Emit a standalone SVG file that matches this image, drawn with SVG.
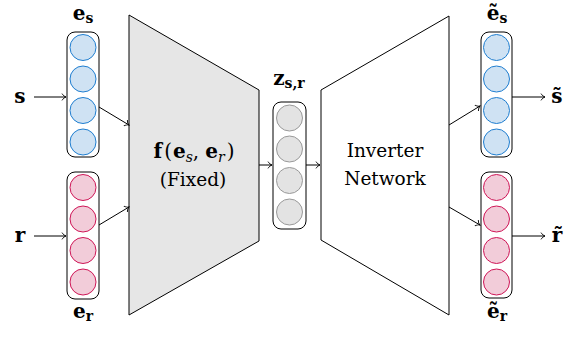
<svg xmlns="http://www.w3.org/2000/svg" width="578" height="338" viewBox="0 0 578 338">
<style>
.box{fill:#fff;stroke:#000;stroke-width:1}
.cb{fill:#cfe2f3;stroke:#1f7ed0;stroke-width:1}
.cr{fill:#f2ccd9;stroke:#cf1657;stroke-width:1}
.cg{fill:#e3e3e3;stroke:#999;stroke-width:1}
.con{fill:none;stroke:#000;stroke-width:1;marker-end:url(#ah)}
text{font-family:'DejaVu Serif',serif;fill:#000}
.b{font-weight:bold}
.lbl{font-size:20px;text-anchor:middle}
.sub{font-size:14px}
.big{font-size:18.5px;text-anchor:middle}
.fl{font-size:20px;text-anchor:middle}
</style>
<defs>
<marker id="ah" viewBox="-5 -4 6 8" refX="0" refY="0" markerWidth="6" markerHeight="8" markerUnits="userSpaceOnUse" orient="auto">
<path d="M-4,-3.4 C-3,-1.6 -1.2,-0.4 0,0 C-1.2,0.4 -3,1.6 -4,3.4" fill="none" stroke="#000" stroke-width="0.9"/>
</marker>
</defs>

<g id="f-fixed">
<polygon points="129,15 259,90 259,241 129,315" fill="#e6e6e6" stroke="#000" stroke-width="1"/>
<text class="fl" x="194" y="158"><tspan class="b">f</tspan><tspan dx="2">(</tspan><tspan class="b" dx="1">e</tspan><tspan class="sub" font-style="italic" dy="4">s</tspan><tspan dy="-4">,</tspan><tspan class="b" dx="6">e</tspan><tspan class="sub" font-style="italic" dy="4">r</tspan><tspan dy="-4" dx="2">)</tspan></text>
<text class="big" x="193" y="186">(Fixed)</text>
</g>

<g id="inverter">
<polygon points="321,90 449,16 449,315 321,240" fill="#fff" stroke="#000" stroke-width="1"/>
<text class="big" x="385" y="157">Inverter</text>
<text class="big" x="385" y="185">Network</text>
</g>

<g id="es">
<rect class="box" x="67" y="32" width="32" height="125" rx="8"/>
<circle class="cb" cx="83" cy="47.5" r="13"/>
<circle class="cb" cx="83" cy="79" r="13"/>
<circle class="cb" cx="83" cy="110.5" r="13"/>
<circle class="cb" cx="83" cy="142" r="13"/>
<text class="lbl b" x="83" y="20">e<tspan class="sub" dy="3">s</tspan></text>
</g>

<g id="er">
<rect class="box" x="67" y="172" width="32" height="127" rx="8"/>
<circle class="cr" cx="83" cy="187.5" r="13"/>
<circle class="cr" cx="83" cy="219" r="13"/>
<circle class="cr" cx="83" cy="250.5" r="13"/>
<circle class="cr" cx="83" cy="282" r="13"/>
<text class="lbl b" x="83" y="318">e<tspan class="sub" dy="3">r</tspan></text>
</g>

<g id="z">
<rect class="box" x="273" y="102" width="33" height="127" rx="8"/>
<circle class="cg" cx="289.5" cy="118" r="13"/>
<circle class="cg" cx="289.5" cy="149" r="13"/>
<circle class="cg" cx="289.5" cy="180.5" r="13"/>
<circle class="cg" cx="289.5" cy="212" r="13"/>
<text class="lbl b" x="289" y="85">z<tspan class="sub" dy="3">s,r</tspan></text>
</g>

<g id="es-tilde">
<rect class="box" x="481" y="32" width="31" height="125" rx="8"/>
<circle class="cb" cx="496.5" cy="47.5" r="13"/>
<circle class="cb" cx="496.5" cy="79" r="13"/>
<circle class="cb" cx="496.5" cy="110.5" r="13"/>
<circle class="cb" cx="496.5" cy="142" r="13"/>
<text class="lbl b" x="497" y="20">ẽ<tspan class="sub" dy="3">s</tspan></text>
</g>

<g id="er-tilde">
<rect class="box" x="481" y="172" width="31" height="126" rx="8"/>
<circle class="cr" cx="496.5" cy="187.5" r="13"/>
<circle class="cr" cx="496.5" cy="219" r="13"/>
<circle class="cr" cx="496.5" cy="250.5" r="13"/>
<circle class="cr" cx="496.5" cy="282" r="13"/>
<text class="lbl b" x="497" y="318">ẽ<tspan class="sub" dy="3">r</tspan></text>
</g>

<g id="inputs-outputs">
<text class="lbl b" x="20" y="103">s</text>
<text class="lbl b" x="20" y="242">r</text>
<text class="lbl b" x="557" y="103">s̃</text>
<text class="lbl b" x="557" y="242">r̃</text>
</g>

<g id="connectors">
<line class="con" x1="34" y1="97" x2="66" y2="97"/>
<line class="con" x1="34" y1="236" x2="66" y2="236"/>
<line class="con" x1="99" y1="107" x2="129" y2="125"/>
<line class="con" x1="99" y1="225" x2="129" y2="207"/>
<line class="con" x1="259" y1="165" x2="272" y2="165"/>
<line class="con" x1="306" y1="165" x2="320" y2="165"/>
<line class="con" x1="449" y1="125" x2="480" y2="106"/>
<line class="con" x1="449" y1="207" x2="480" y2="225"/>
<line class="con" x1="512" y1="97" x2="545" y2="97"/>
<line class="con" x1="512" y1="236" x2="545" y2="236"/>
</g>
</svg>
